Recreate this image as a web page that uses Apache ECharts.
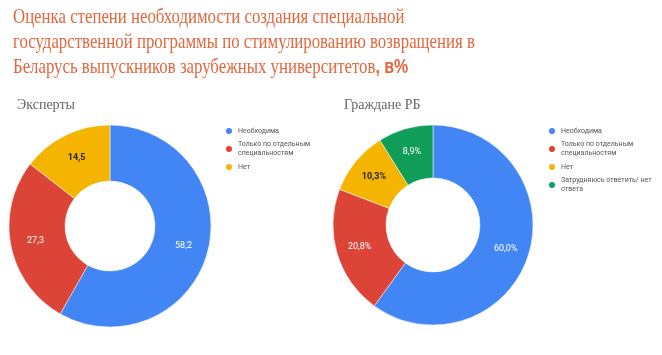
<!DOCTYPE html>
<html>
<head>
<meta charset="utf-8">
<script src="https://cdn.jsdelivr.net/npm/echarts@6/dist/echarts.min.js"></script>
<style>
  html, body { margin: 0; padding: 0; background: #fff; }
  #main { width: 662px; height: 355px; }
</style>
</head>
<body>
<div id="main"></div>
<script>
const titleLines = [
  'Оценка степени необходимости создания специальной',
  'государственной программы по стимулированию возвращения в',
  'Беларусь выпускников зарубежных университетов'
];
const expertNames = ['Необходима', 'Только по отдельным специальностям', 'Нет'];
const expertValues = [58.2, 27.3, 14.5];
const citizenNames = ['Необходима', 'Только по отдельным специальностям', 'Нет', 'Затрудняюсь ответить/ нет ответа'];
const citizenValues = [60.0, 20.8, 10.3, 8.9];
const colors = ['#4285F4', '#DB4437', '#F4B400', '#0F9D58'];

const legendText = {
  'Только по отдельным специальностям': 'Только по отдельным\nспециальностям',
  'Затрудняюсь ответить/ нет ответа': 'Затрудняюсь ответить/ нет\nответа'
};

const myChart = echarts.init(document.getElementById('main'));

const toData = (names, values) => names.map((n, i) => ({
  name: n,
  value: values[i],
  itemStyle: { color: colors[i] },
  label: { color: i === 2 ? '#222' : '#fff', fontWeight: i === 2 ? 'bold' : 'normal' }
}));

const legendBase = {
  orient: 'vertical',
  icon: 'circle',
  itemWidth: 8,
  itemHeight: 8,
  itemGap: 4,
  textStyle: { fontSize: 7, color: '#555', lineHeight: 9, fontFamily: 'Roboto' },
  formatter: (n) => legendText[n] || n,
  selectedMode: false
};

myChart.setOption({
  animation: false,
  graphic: [
    {
      type: 'text',
      left: 13,
      top: 5,
      scaleX: 0.8,
      style: {
        text: titleLines[0] + '\n' + titleLines[1] + '\n' + titleLines[2] + '{b|, в%}',
        fill: '#E2673D',
        font: '21px "Liberation Serif"',
        lineHeight: 25,
        rich: {
          b: { fontFamily: 'Liberation Sans', fontWeight: 'bold', fontSize: 20, fill: '#E2673D' }
        }
      }
    }
  ],
  title: [
    {
      text: 'Эксперты', left: 12, top: 93,
      textStyle: { fontFamily: 'Liberation Serif', fontWeight: 'normal', fontSize: 14, color: '#666' }
    },
    {
      text: 'Граждане РБ', left: 339, top: 93,
      textStyle: { fontFamily: 'Liberation Serif', fontWeight: 'normal', fontSize: 14, color: '#666' }
    }
  ],
  legend: [
    Object.assign({}, legendBase, { left: 219, top: 121, data: expertNames }),
    Object.assign({}, legendBase, { left: 542, top: 121, data: citizenNames })
  ],
  series: [
    {
      type: 'pie',
      center: [110, 226],
      radius: [45, 101],
      startAngle: 90,
      data: toData(expertNames, expertValues),
      itemStyle: { borderColor: '#fff', borderWidth: 0.5 },
      label: {
        position: 'inside',
        fontSize: 9,
        fontFamily: 'Roboto',
        formatter: (p) => p.value.toFixed(1).replace('.', ',')
      },
      labelLine: { show: false }
    },
    {
      type: 'pie',
      center: [433, 225],
      radius: [47, 100],
      startAngle: 90,
      data: toData(citizenNames, citizenValues),
      itemStyle: { borderColor: '#fff', borderWidth: 0.5 },
      label: {
        position: 'inside',
        fontSize: 9,
        fontFamily: 'Roboto',
        formatter: (p) => p.value.toFixed(1).replace('.', ',') + '%'
      },
      labelLine: { show: false }
    }
  ]
});

window.onresize = function () {
  myChart.resize();
};
</script>
</body>
</html>
